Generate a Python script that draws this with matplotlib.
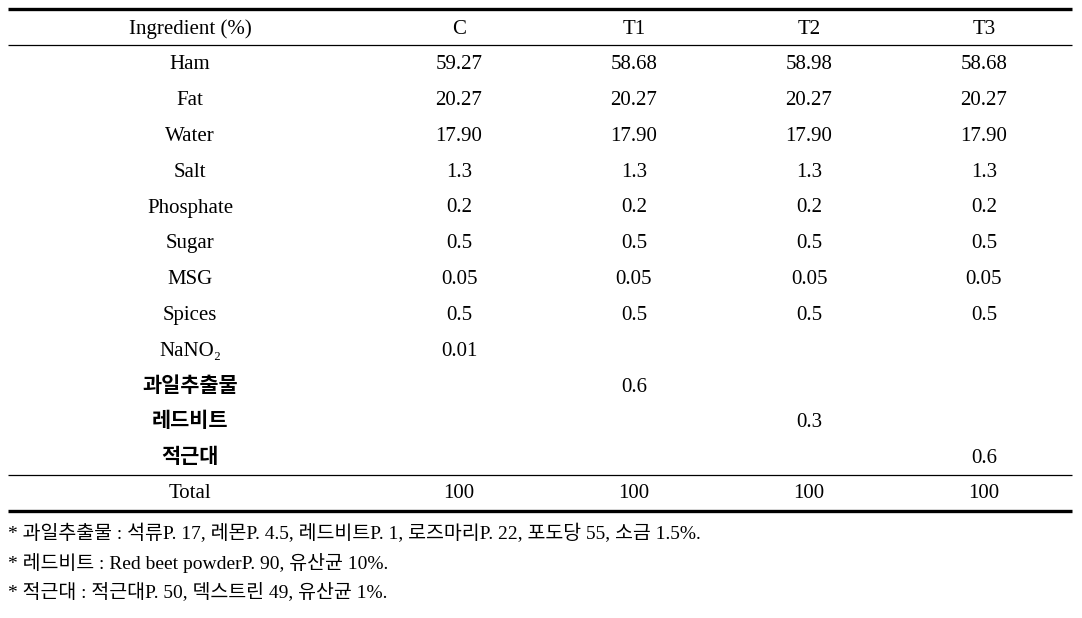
import matplotlib
matplotlib.use('Agg')
import matplotlib.pyplot as plt

# Table content
columns = ['Ingredient (%)', 'C', 'T1', 'T2', 'T3']
ingredients = ['Ham', 'Fat', 'Water', 'Salt', 'Phosphate', 'Sugar', 'MSG', 'Spices',
               'NaNO₂', '과일추출물', '레드비트', '적근대']
val_C = ['59.27', '20.27', '17.90', '1.3', '0.2', '0.5', '0.05', '0.5', '0.01', '', '', '']
val_T1 = ['58.68', '20.27', '17.90', '1.3', '0.2', '0.5', '0.05', '0.5', '', '0.6', '', '']
val_T2 = ['58.98', '20.27', '17.90', '1.3', '0.2', '0.5', '0.05', '0.5', '', '', '0.3', '']
val_T3 = ['58.68', '20.27', '17.90', '1.3', '0.2', '0.5', '0.05', '0.5', '', '', '', '0.6']
totals = ['Total', '100', '100', '100', '100']
footnotes = [
    '* 과일추출물 : 석류P. 17, 레몬P. 4.5, 레드비트P. 1, 로즈마리P. 22, 포도당 55, 소금 1.5%.',
    '* 레드비트 : Red beet powderP. 90, 유산균 10%.',
    '* 적근대 : 적근대P. 50, 덱스트린 49, 유산균 1%.',
]

serif = ['Liberation Serif', 'Noto Sans CJK KR']
korean = ['Noto Sans CJK KR', 'Liberation Serif']

fig = plt.figure(figsize=(10.82, 6.18), dpi=100)
ax = fig.add_axes([0, 0, 1, 1])
ax.set_xlim(0, 1082)
ax.set_ylim(618, 0)
ax.axis('off')

col_x = [190, 459, 634, 809, 984]
row_h = 35.8
header_y = 29
fs = 15


def is_korean(s):
    return any('\uac00' <= ch <= '\ud7a3' for ch in s)


# header
for x, c in zip(col_x, columns):
    ax.text(x, header_y, c, ha='center', va='center', fontsize=fs, family=serif)

# body
body = list(zip(ingredients, val_C, val_T1, val_T2, val_T3))
for i, row in enumerate(body):
    y = header_y + row_h * (i + 1)
    for x, s in zip(col_x, row):
        if not s:
            continue
        kor = is_korean(s)
        ax.text(x, y - (2 if kor else 0), s, ha='center', va='center', fontsize=fs,
                family=korean if kor else serif,
                weight='semibold' if kor else 'normal')

total_y = header_y + row_h * (len(body) + 1) - 1
for x, s in zip(col_x, totals):
    ax.text(x, total_y, s, ha='center', va='center', fontsize=fs, family=serif)

# rules
x0, x1 = 8, 1072
ax.plot([x0, x1], [9, 9], color='black', lw=2.4, solid_capstyle='butt')
ax.plot([x0, x1], [44.5, 44.5], color='black', lw=0.9, solid_capstyle='butt')
ax.plot([x0, x1], [475, 475], color='black', lw=0.9, solid_capstyle='butt')
ax.plot([x0, x1], [511, 511], color='black', lw=2.4, solid_capstyle='butt')

# footnotes
for y, note in zip([533, 563, 592], footnotes):
    ax.text(8, y, note, ha='left', va='center', fontsize=14, family=serif)

fig.savefig('out.png', dpi=100)
